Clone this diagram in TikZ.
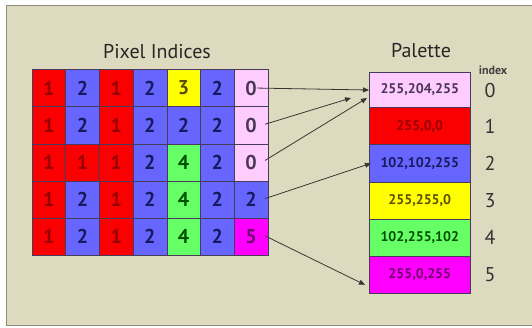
\documentclass[tikz,border=0pt]{standalone}
\usepackage{fontspec}
\setmainfont{PT Sans}
\usetikzlibrary{arrows.meta,calc}
\definecolor{bgc}{RGB}{222,218,192}
\definecolor{framec}{RGB}{140,138,120}
\definecolor{redc}{RGB}{250,0,0}
\definecolor{bluec}{RGB}{102,102,255}
\definecolor{yellowc}{RGB}{255,255,0}
\definecolor{greenc}{RGB}{102,255,102}
\definecolor{magc}{RGB}{255,0,255}
\definecolor{pinkc}{RGB}{255,204,255}
\definecolor{tred}{RGB}{150,0,0}
\definecolor{tblue}{RGB}{25,25,95}
\definecolor{tyellow}{RGB}{90,80,0}
\definecolor{tgreen}{RGB}{0,80,0}
\definecolor{tpink}{RGB}{75,55,85}
\definecolor{tmag}{RGB}{110,0,110}
\definecolor{linec}{RGB}{55,55,50}
\definecolor{gridc}{RGB}{70,60,90}
\tikzset{
  cell/.style={draw=gridc, line width=0.5pt, minimum width=33.7pt, minimum height=37.2pt,
    inner sep=0pt, font=\fontsize{20}{20}\selectfont\bfseries, anchor=north west},
  c1/.style={cell, fill=redc, text=tred},
  c2/.style={cell, fill=bluec, text=tblue},
  c3/.style={cell, fill=yellowc, text=tyellow},
  c4/.style={cell, fill=greenc, text=tgreen},
  c0/.style={cell, fill=pinkc, text=tpink},
  c5/.style={cell, fill=magc, text=tmag},
  pal/.style={draw=gridc, line width=0.6pt, minimum width=101pt, minimum height=37.2pt,
    inner sep=0pt, font=\fontsize{14}{14}\selectfont\bfseries, anchor=north west},
  idx/.style={font=\fontsize{20}{20}\selectfont, text=black!80},
  ttl/.style={font=\fontsize{20}{20}\selectfont, text=black!85},
  conn/.style={draw=linec, line width=0.8pt, -{Triangle[length=6pt,width=5pt]}}
}
\begin{document}
\begin{tikzpicture}[x=1pt,y=-1pt]
\useasboundingbox (0,0) rectangle (532,327);
\fill[white] (0,0) rectangle (532,327);
\fill[bgc] (6,5) rectangle (532,325);
\draw[framec, line width=1pt] (532,5) -- (6,5) -- (6,325) -- (532,325);
\node[ttl] (title) at (157,52) {Pixel Indices};
\node[ttl] (paltitle) at (421,51) {Palette};
\node[font=\fontsize{12}{12}\selectfont\bfseries, text=black!75] (idxlabel) at (493,70) {index};
% grid
\foreach \row/\vals in {0/{1,2,1,2,3,2,0},1/{1,2,1,2,2,2,0},2/{1,1,1,2,4,2,0},3/{1,2,1,2,4,2,2},4/{1,2,1,2,4,2,5}}{
  \foreach \v [count=\c from 0] in \vals {
    \node[c\v] (g-\row-\c) at ({31.7+33.7*\c},{69.2+37.2*\row}) {\v};
  }
}
% palette
\node[pal, fill=pinkc, text=tpink, minimum height=35pt] (p0) at (369,72.2) {255,204,255};
\node[pal, fill=redc, text=tred] (p1) at (369,107.2) {255,0,0};
\node[pal, fill=bluec, text=tblue] (p2) at (369,144.4) {102,102,255};
\node[pal, fill=yellowc, text=tyellow] (p3) at (369,181.6) {255,255,0};
\node[pal, fill=greenc, text=tgreen] (p4) at (369,218.8) {102,255,102};
\node[pal, fill=magc, text=tmag] (p5) at (369,256) {255,0,255};
% index numbers
\coordinate (ix) at (490,0);
\foreach \i in {0,...,5} {
  \node[idx] (n\i) at (p\i -| ix) {\i};
}
% connectors
\coordinate (s0) at ($(g-0-6.center)+(6,0)$);
\coordinate (s1) at ($(g-1-6.center)+(14,-1)$);
\coordinate (s2) at ($(g-2-6.center)+(14,-2)$);
\coordinate (s3) at ($(g-3-6.center)+(14,-1)$);
\coordinate (s4) at ($(g-4-6.center)+(14,-1)$);
\coordinate (e1) at ($(p0.west)+(-18,8)$);
\coordinate (e2) at ($(p0.west)+(-2,8)$);
\coordinate (e4) at ($(p5.south west)+(-4,-9)$);
\draw[conn] (s0) -- (p0.west);
\draw[conn] (s1) -- (e1);
\draw[conn] (s2) -- (e2);
\draw[conn] (s3) -- ($(p2.west)+(2,0)$);
\draw[conn] (s4) -- (e4);
\end{tikzpicture}
\end{document}
